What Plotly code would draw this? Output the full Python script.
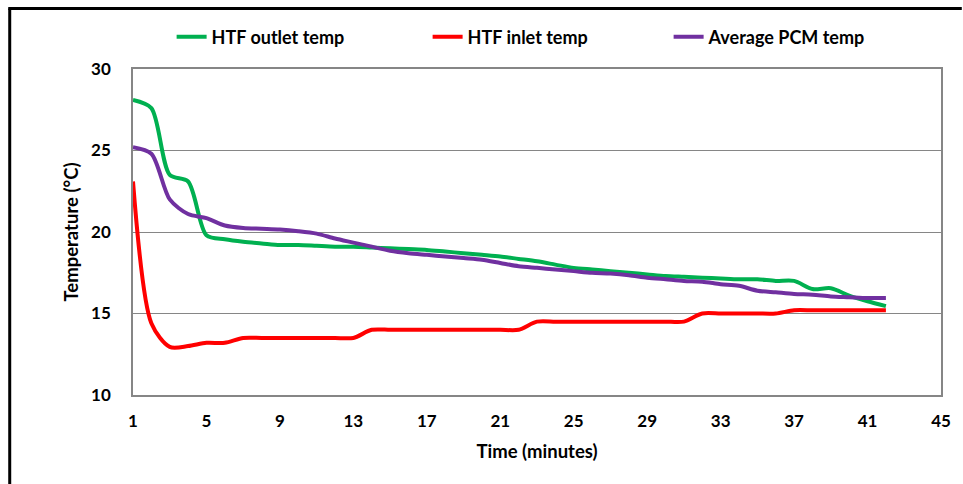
import plotly.graph_objects as go

# Time in minutes
minutes = list(range(1, 43))

htf_outlet = [28.1, 27.6, 23.5, 23.1, 19.8, 19.55, 19.4, 19.3, 19.2, 19.2,
              19.15, 19.1, 19.1, 19.05, 19.0, 18.95, 18.9, 18.8, 18.7, 18.6,
              18.5, 18.35, 18.2, 18.0, 17.8, 17.7, 17.6, 17.5, 17.4, 17.3,
              17.25, 17.2, 17.15, 17.1, 17.1, 17.0, 17.0, 16.5, 16.55, 16.1,
              15.75, 15.45]

htf_inlet = [23.1, 14.4, 12.95, 13.0, 13.2, 13.2, 13.5, 13.5, 13.5, 13.5,
             13.5, 13.5, 13.5, 14.0, 14.0, 14.0, 14.0, 14.0, 14.0, 14.0,
             14.0, 14.0, 14.5, 14.5, 14.5, 14.5, 14.5, 14.5, 14.5, 14.5,
             14.5, 15.0, 15.0, 15.0, 15.0, 15.0, 15.2, 15.2, 15.2, 15.2,
             15.2, 15.2]

pcm_avg = [25.2, 24.8, 22.0, 21.1, 20.85, 20.4, 20.25, 20.2, 20.15, 20.05,
           19.9, 19.6, 19.35, 19.1, 18.85, 18.7, 18.6, 18.5, 18.4, 18.3,
           18.1, 17.9, 17.8, 17.7, 17.6, 17.5, 17.45, 17.35, 17.2, 17.1,
           17.0, 16.95, 16.8, 16.7, 16.4, 16.3, 16.2, 16.15, 16.05, 16.0,
           15.95, 15.95]

series = [
    ("HTF outlet temp", htf_outlet, "#00B050", 211),
    ("HTF inlet temp", htf_inlet, "#FF0000", 196),
    ("Average PCM temp", pcm_avg, "#7030A0", 205),
]

x_ticks = [1, 5, 9, 13, 17, 21, 25, 29, 33, 37, 41, 45]
y_ticks = [10, 15, 20, 25, 30]

fig = go.Figure()
for name, vals, color, lw in series:
    fig.add_trace(go.Scatter(
        x=minutes, y=vals, name=name, mode="lines", legendwidth=lw,
        line=dict(color=color, width=4, shape="spline", smoothing=0.8),
    ))

FONT = "Lato"
W, H = 963, 484
ML, MR, MT, MB = 133, 14, 69, 89
pw, ph = W - ML - MR, H - MT - MB

def px_x(p):
    return (p - ML) / pw

def px_y(p):
    return (H - MB - p) / ph

# outer frame (left and top edges)
frame = dict(color="black", width=3)
shapes = [
    dict(type="line", xref="paper", yref="paper",
         x0=px_x(8.5), x1=px_x(8.5), y0=px_y(8.5), y1=px_y(490), line=frame),
    dict(type="line", xref="paper", yref="paper",
         x0=px_x(7), x1=px_x(970), y0=px_y(8.5), y1=px_y(8.5), line=frame),
]

fig.update_layout(
    width=W, height=H,
    margin=dict(l=ML, r=MR, t=MT, b=MB, pad=0),
    paper_bgcolor="white", plot_bgcolor="white",
    font=dict(family=FONT, size=16, color="black", weight="bold"),
    shapes=shapes,
    legend=dict(
        orientation="h", x=px_x(172), xanchor="left", y=px_y(37), yanchor="middle",
        font=dict(family=FONT, size=18, color="black", weight="bold"),
        itemwidth=30, bgcolor="rgba(0,0,0,0)", tracegroupgap=0,
    ),
    showlegend=True,
)

fig.update_xaxes(
    range=[1, 45], tickvals=x_ticks, ticktext=[str(v) for v in x_ticks],
    showgrid=False, zeroline=False,
    showline=True, linecolor="#868686", linewidth=1.5, mirror=True,
    ticks="", ticklabelstandoff=10,
    tickfont=dict(family=FONT, size=17, color="black", weight="bold"),
    title=dict(text="Time (minutes)", standoff=15,
               font=dict(family=FONT, size=18.5, color="black", weight="bold")),
)
fig.update_yaxes(
    range=[10, 30], tickvals=y_ticks, ticktext=[str(v) for v in y_ticks],
    showgrid=True, gridcolor="#868686", gridwidth=1, zeroline=False,
    showline=True, linecolor="#868686", linewidth=1.5, mirror=True,
    ticks="", ticklabelstandoff=17,
    tickfont=dict(family=FONT, size=17, color="black", weight="bold"),
    title=dict(text="Temperature (°C)", standoff=8,
               font=dict(family=FONT, size=18.5, color="black", weight="bold")),
)

fig.write_html("out.html")
